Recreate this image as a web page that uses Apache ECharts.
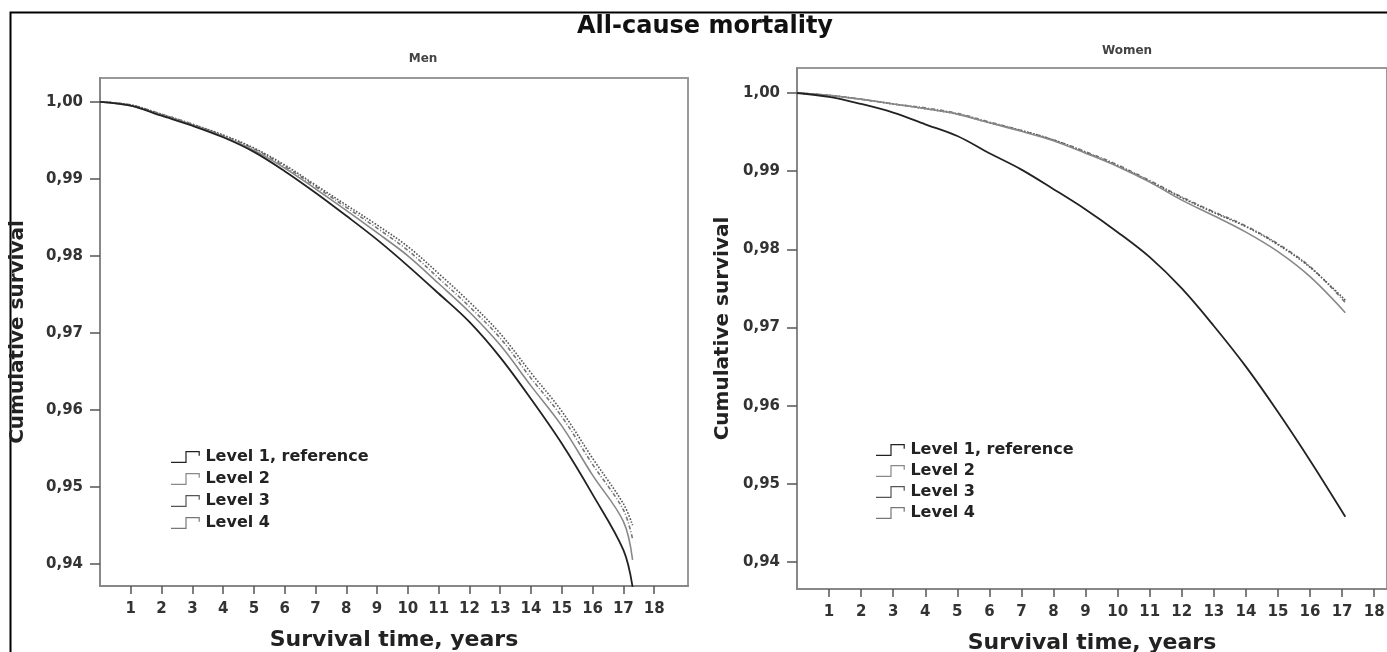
<!DOCTYPE html>
<html>
<head>
<meta charset="utf-8">
<title>All-cause mortality</title>
<script src="https://cdn.jsdelivr.net/npm/echarts@6/dist/echarts.min.js"></script>
<style>
    html, body { margin: 0; padding: 0; background: #fff; }
    #chart { width: 1387px; height: 652px; }
</style>
</head>
<body>
<div id="chart"></div>
<script>
// 数据
var levelNames = ['Level 1, reference', 'Level 2', 'Level 3', 'Level 4'];
var xTicks = [1, 2, 3, 4, 5, 6, 7, 8, 9, 10, 11, 12, 13, 14, 15, 16, 17, 18];
var yTicks = [0.94, 0.95, 0.96, 0.97, 0.98, 0.99, 1.00];

var menYears = [0, 1, 2, 3, 4, 5, 6, 7, 8, 9, 10, 11, 12, 13, 14, 15, 16, 17, 17.3];
var menLevel1 = [1.0000, 0.9995, 0.9982, 0.9969, 0.9954, 0.9935, 0.9910, 0.9882, 0.9852, 0.9821, 0.9787, 0.9751, 0.9714, 0.9668, 0.9614, 0.9556, 0.9490, 0.9418, 0.9370];
var menLevel2 = [1.0000, 0.9995, 0.9983, 0.9970, 0.9955, 0.9937, 0.9914, 0.9887, 0.9859, 0.9830, 0.9800, 0.9764, 0.9727, 0.9684, 0.9631, 0.9579, 0.9515, 0.9455, 0.9405];
var menLevel3 = [1.0000, 0.9996, 0.9984, 0.9971, 0.9957, 0.9940, 0.9918, 0.9892, 0.9866, 0.9840, 0.9812, 0.9777, 0.9740, 0.9699, 0.9648, 0.9598, 0.9537, 0.9478, 0.9450];
var menLevel4 = [1.0000, 0.9996, 0.9984, 0.9971, 0.9956, 0.9939, 0.9916, 0.9890, 0.9863, 0.9836, 0.9807, 0.9771, 0.9734, 0.9693, 0.9641, 0.9591, 0.9529, 0.9470, 0.9432];

var womenYears = [0, 1, 2, 3, 4, 5, 6, 7, 8, 9, 10, 11, 12, 13, 14, 15, 16, 17.1];
var womenLevel1 = [1.0000, 0.9995, 0.9986, 0.9975, 0.9960, 0.9945, 0.9923, 0.9902, 0.9877, 0.9851, 0.9822, 0.9790, 0.9750, 0.9702, 0.9650, 0.9592, 0.9530, 0.9458];
var womenLevel2 = [1.0000, 0.9997, 0.9992, 0.9986, 0.9980, 0.9973, 0.9962, 0.9951, 0.9939, 0.9923, 0.9906, 0.9886, 0.9863, 0.9843, 0.9822, 0.9797, 0.9765, 0.9719];
var womenLevel3 = [1.0000, 0.9997, 0.9992, 0.9986, 0.9980, 0.9973, 0.9962, 0.9952, 0.9940, 0.9924, 0.9907, 0.9887, 0.9866, 0.9847, 0.9829, 0.9806, 0.9777, 0.9735];
var womenLevel4 = [1.0000, 0.9997, 0.9992, 0.9986, 0.9981, 0.9974, 0.9963, 0.9952, 0.9940, 0.9925, 0.9908, 0.9888, 0.9867, 0.9848, 0.9830, 0.9807, 0.9778, 0.9732];

var stepIcon = 'path://M0,9L12,9L12,0L24,0L24,4L23,4L23,1L13,1L13,10L0,10Z';
var lineStyles = [
    { color: '#222', width: 1.8, type: 'solid' },
    { color: '#888', width: 1.6, type: 'solid' },
    { color: '#555', width: 1.6, type: 'dotted' },
    { color: '#777', width: 1.6, type: [4, 2, 1, 2] }
];
var boldFont = 'DejaVu Sans';

function pairs(xs, ys) {
    var out = [];
    for (var i = 0; i < xs.length; i++) out.push([xs[i], ys[i]]);
    return out;
}

function makeX(gridIndex, max) {
    return {
        type: 'value', gridIndex: gridIndex, min: 0, max: max, interval: 1,
        name: 'Survival time, years', nameLocation: 'middle', nameGap: 43,
        nameTextStyle: { fontFamily: boldFont, fontSize: 22, fontWeight: 'bold', color: '#222' },
        axisLine: { show: true, onZero: false, lineStyle: { color: '#888', width: 2 } },
        axisTick: { show: true, length: 8, customValues: xTicks, lineStyle: { color: '#555', width: 1.5 } },
        axisLabel: { customValues: xTicks, margin: 16, fontFamily: boldFont, fontSize: 15, fontWeight: 'bold', color: '#333' },
        splitLine: { show: false }
    };
}

function makeY(gridIndex, min, max, gap) {
    return {
        type: 'value', gridIndex: gridIndex, min: min, max: max,
        name: 'Cumulative survival', nameLocation: 'middle', nameGap: gap, nameRotate: 90,
        nameTextStyle: { fontFamily: boldFont, fontSize: 20, fontWeight: 'bold', color: '#222' },
        axisLine: { show: true, lineStyle: { color: '#888', width: 2 } },
        axisTick: { show: true, length: 10, customValues: yTicks, lineStyle: { color: '#555', width: 1.5 } },
        axisLabel: {
            customValues: yTicks, margin: 17,
            fontFamily: boldFont, fontSize: 15, fontWeight: 'bold', color: '#333',
            formatter: function (v) { return v.toFixed(2).replace('.', ','); }
        },
        splitLine: { show: false }
    };
}

function makeSeries(idx, xs, levels) {
    var list = [];
    for (var i = 0; i < levels.length; i++) {
        list.push({
            name: levelNames[i],
            type: 'line',
            xAxisIndex: idx, yAxisIndex: idx,
            data: pairs(xs, levels[i]),
            smooth: 0.35,
            showSymbol: false,
            color: lineStyles[i].color,
            lineStyle: lineStyles[i],
            z: 4 - i
        });
    }
    return list;
}

var legendData = levelNames.map(function (n) { return { name: n, icon: stepIcon }; });

var chartDom = document.getElementById('chart');
var myChart = echarts.init(chartDom);
var option = {
    animation: false,
    backgroundColor: '#fff',
    title: [
        { text: 'All-cause mortality', left: 700, top: 10, textAlign: 'center',
          textStyle: { fontFamily: boldFont, fontSize: 24, fontWeight: 'bold', color: '#111' } },
        { text: 'Men', left: 418, top: 48, textAlign: 'center',
          textStyle: { fontFamily: boldFont, fontSize: 12, fontWeight: 'bold', color: '#444' } },
        { text: 'Women', left: 1122, top: 40, textAlign: 'center',
          textStyle: { fontFamily: boldFont, fontSize: 12, fontWeight: 'bold', color: '#444' } }
    ],
    grid: [
        { left: 100, top: 78, right: 699, bottom: 66, show: true, borderColor: '#999', borderWidth: 2,
          containLabel: false, outerBoundsMode: 'none' },
        { left: 797, top: 68, right: 0, bottom: 63, show: true, borderColor: '#999', borderWidth: 2,
          containLabel: false, outerBoundsMode: 'none' }
    ],
    xAxis: [makeX(0, 19.1), makeX(1, 18.4)],
    yAxis: [makeY(0, 0.9371, 1.0031, 72), makeY(1, 0.93655, 1.0032, 64)],
    legend: [
        { data: legendData, orient: 'vertical', left: 166, top: 444, itemWidth: 30, itemHeight: 12, itemGap: 6,
          textStyle: { fontFamily: boldFont, fontSize: 16, fontWeight: 'bold', color: '#222' } },
        { data: legendData, orient: 'vertical', left: 871, top: 437, itemWidth: 30, itemHeight: 12, itemGap: 5,
          textStyle: { fontFamily: boldFont, fontSize: 16, fontWeight: 'bold', color: '#222' } }
    ],
    graphic: [
        { type: 'rect', left: 8, top: 10, shape: { width: 1400, height: 700 },
          style: { fill: 'none', stroke: '#000', lineWidth: 2 }, silent: true }
    ],
    series: makeSeries(0, menYears, [menLevel1, menLevel2, menLevel3, menLevel4])
        .concat(makeSeries(1, womenYears, [womenLevel1, womenLevel2, womenLevel3, womenLevel4]))
};

myChart.setOption(option);
</script>
</body>
</html>
